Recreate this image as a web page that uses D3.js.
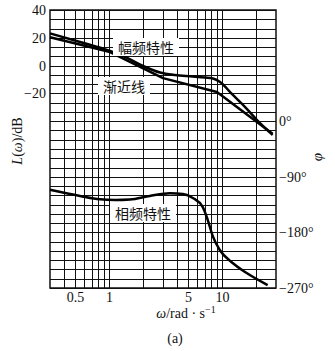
<!DOCTYPE html>
<html>
<head>
<meta charset="utf-8">
<script src="https://cdn.jsdelivr.net/npm/d3@7"></script>
<style>
  html, body { margin: 0; padding: 0; background: #fff; }
  svg { display: block; }
</style>
</head>
<body>
<svg id="chart" width="335" height="351"></svg>
<script>
// ---------- data ----------
const freqDomain = [0.3, 30];
const xTickValues = [0.5, 1, 5, 10];
const xTickLabels = ["0.5", "1", "5", "10"];
const xGridValues = [0.4, 0.5, 0.6, 0.7, 0.8, 0.9, 1, 2, 3, 4, 5, 6, 7, 8, 9, 10, 20];
const dbTickValues = [40, 20, 0, -20];
const phaseTickValues = [0, -90, -180, -270];

// exact magnitude curve (幅频特性)
const magOmega = [0.3, 0.553, 1.02, 1.38, 2.0, 2.82, 3.83, 5.5, 7.05, 8.3, 9.6, 12.2, 16, 20.8, 28];
const magDb    = [23.2, 17.0, 10.5, 6.2, -0.3, -5.0, -6.8, -7.8, -8.6, -9.3, -11.8, -20.4, -29.8, -39.9, -49.9];

// asymptote (渐近线)
const asyOmega = [0.3, 1, 3, 9, 28];
const asyDb    = [20.4, 10, -9, -19, -49];

// phase curve (相频特性)
const phOmega = [0.3, 0.553, 0.828, 1.13, 1.53, 2.29, 3.46, 4.5, 5.51, 6.75, 7.47, 8.27, 9.54, 12.4, 16.5, 25.3];
const phDeg   = [-111, -121, -126.5, -127.6, -126.8, -121, -116.7, -117.9, -124.3, -139, -160, -186, -208.5, -229.6, -245.8, -265.3];

// ---------- drawing ----------
const svg = d3.select("#chart");
const L = 50, R = 276, T = 10, B = 288;

const x = d3.scaleLog().domain(freqDomain).range([L, R]);
const yDb = d3.scaleLinear().domain([-160, 40]).range([B, T]);
const yPh = d3.scaleLinear().domain([-270, 180]).range([B, T]);
const phaseGrid = d3.range(-270, 181, 15);

const serif = "'Liberation Serif','Times New Roman',serif";
const cjk = "'Noto Sans CJK SC',sans-serif";

// grid
const grid = svg.append("g").attr("stroke", "#111").attr("shape-rendering", "crispEdges");
grid.selectAll("line.h").data(phaseGrid).join("line")
  .attr("x1", L).attr("x2", R)
  .attr("y1", d => Math.round(yPh(d)) + 0.5).attr("y2", d => Math.round(yPh(d)) + 0.5)
  .attr("stroke-width", 1);
grid.selectAll("line.v").data(xGridValues).join("line")
  .attr("y1", T).attr("y2", B)
  .attr("x1", d => Math.round(x(d)) + 0.5).attr("x2", d => Math.round(x(d)) + 0.5)
  .attr("stroke-width", d => (d === 1 || d === 10) ? 1.6 : 1);

// frame
svg.append("rect").attr("x", L).attr("y", T).attr("width", R - L).attr("height", B - T)
  .attr("fill", "none").attr("stroke", "#111").attr("stroke-width", 1.5);

// axes labels
const axL = svg.append("g").attr("transform", `translate(${L},0)`)
  .call(d3.axisLeft(yDb).tickValues(dbTickValues).tickSize(0).tickPadding(4));
axL.select(".domain").remove();
axL.selectAll("text").attr("font-family", serif).attr("font-size", 14).attr("fill", "#111");

const axR = svg.append("g").attr("transform", `translate(${R},0)`)
  .call(d3.axisRight(yPh).tickValues(phaseTickValues).tickSize(0).tickPadding(3)
    .tickFormat(d => d3.format("d")(d) + "°"));
axR.select(".domain").remove();
axR.selectAll("text").attr("font-family", serif).attr("font-size", 14).attr("fill", "#111");

const axB = svg.append("g").attr("transform", `translate(0,${B})`)
  .call(d3.axisBottom(x).tickValues(xTickValues).tickSize(0).tickPadding(4)
    .tickFormat((d, i) => xTickLabels[i]));
axB.select(".domain").remove();
axB.selectAll("text").attr("font-family", serif).attr("font-size", 14).attr("fill", "#111");

// curves
const lineMag = d3.line().x(d => x(d[0])).y(d => yDb(d[1])).curve(d3.curveMonotoneX);
const lineAsy = d3.line().x(d => x(d[0])).y(d => yDb(d[1]));
const linePh = d3.line().x(d => x(d[0])).y(d => yPh(d[1])).curve(d3.curveMonotoneX);

svg.append("path").datum(d3.zip(asyOmega, asyDb)).attr("d", lineAsy)
  .attr("fill", "none").attr("stroke", "#000").attr("stroke-width", 2.5).attr("stroke-linejoin", "round");
svg.append("path").datum(d3.zip(magOmega, magDb)).attr("d", lineMag)
  .attr("fill", "none").attr("stroke", "#000").attr("stroke-width", 2.5);
svg.append("path").datum(d3.zip(phOmega, phDeg)).attr("d", linePh)
  .attr("fill", "none").attr("stroke", "#000").attr("stroke-width", 2.5);

// in-plot labels with white backgrounds
function boxLabel(text, cx, cy, w, h) {
  svg.append("rect").attr("x", cx - w / 2).attr("y", cy - h / 2).attr("width", w).attr("height", h).attr("fill", "#fff");
  svg.append("text").attr("x", cx).attr("y", cy).attr("text-anchor", "middle").attr("dominant-baseline", "central")
    .attr("font-family", cjk).attr("font-size", 14).attr("fill", "#111").text(text);
}
boxLabel("幅频特性", 146, 47, 66, 18);
boxLabel("渐近线", 124, 86, 52, 18);
boxLabel("相频特性", 143, 213, 66, 18);

// axis titles
svg.append("text").attr("transform", "translate(22,141) rotate(-90)").attr("text-anchor", "middle")
  .attr("font-family", serif).attr("font-size", 14).attr("fill", "#111")
  .html('<tspan font-style="italic">L</tspan>(<tspan font-style="italic">ω</tspan>)/dB');
svg.append("text").attr("transform", "translate(322,157) rotate(-90)").attr("text-anchor", "middle")
  .attr("font-family", serif).attr("font-size", 15).attr("font-style", "italic").attr("fill", "#111")
  .text("φ");
svg.append("text").attr("x", 186).attr("y", 318).attr("text-anchor", "middle")
  .attr("font-family", serif).attr("font-size", 14).attr("fill", "#111")
  .html('<tspan font-style="italic">ω</tspan>/rad · s<tspan dy="-5" font-size="10">−1</tspan>');
svg.append("text").attr("x", 175).attr("y", 343).attr("text-anchor", "middle")
  .attr("font-family", serif).attr("font-size", 14).attr("fill", "#111").text("(a)");
</script>
</body>
</html>
